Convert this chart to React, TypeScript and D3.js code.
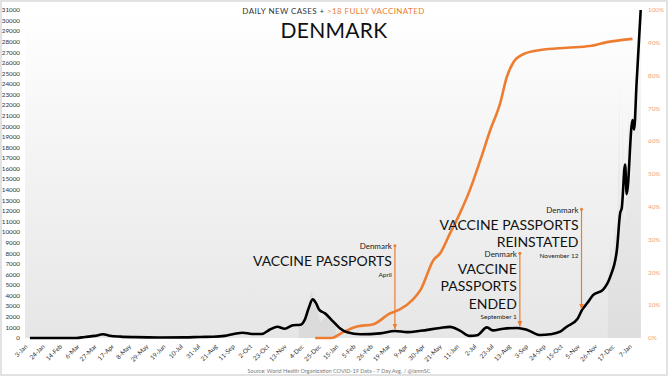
import React from "react";
import * as d3 from "d3";

// 7-day average daily new cases (Denmark)
const caseDates = [
  "2020-01-09","2020-03-05","2020-03-16","2020-03-28","2020-04-07","2020-04-15","2020-04-28","2020-05-16",
  "2020-06-15","2020-07-16","2020-08-03","2020-08-19","2020-09-02","2020-09-14","2020-09-24","2020-10-05",
  "2020-10-17","2020-10-27","2020-11-05","2020-11-14","2020-11-24","2020-12-03","2020-12-09","2020-12-13",
  "2020-12-18","2020-12-22","2020-12-26","2021-01-02","2021-01-12","2021-01-20","2021-01-29","2021-02-14",
  "2021-03-10","2021-03-28","2021-04-12","2021-04-28","2021-05-22","2021-06-03","2021-06-15","2021-06-27",
  "2021-07-06","2021-07-18","2021-07-25","2021-08-07","2021-08-24","2021-09-05","2021-09-21","2021-10-03",
  "2021-10-15","2021-10-23","2021-11-05","2021-11-11","2021-11-17","2021-11-24","2021-12-06","2021-12-15",
  "2021-12-23","2021-12-27","2021-12-29","2022-01-02","2022-01-04","2022-01-11","2022-01-13","2022-01-16",
  "2022-01-21"
];
const caseValues = [
  0, 0, 100, 200, 350, 220, 130, 80,
  50, 60, 100, 120, 200, 400, 500, 380,
  380, 800, 1070, 880, 1200, 1250, 1850, 2800,
  3650, 3300, 2650, 2330, 1550, 920, 540, 360,
  440, 660, 560, 680, 950, 1050, 700, 200,
  260, 1000, 720, 880, 950, 760, 280, 350,
  600, 1070, 1800, 2700, 3300, 4050, 4550, 5800,
  8300, 11800, 12300, 16400, 13600, 20600, 19700, 24100,
  31000
];

// raw daily cases (light grey spikes)
const rawDates = [
  "2020-12-01","2020-12-08","2020-12-12","2020-12-15","2020-12-17","2020-12-19","2020-12-21","2020-12-24","2020-12-27","2021-01-05","2021-01-15",
  "2021-12-12","2021-12-16","2021-12-18","2021-12-20","2021-12-23","2021-12-26","2021-12-28","2021-12-30","2022-01-01","2022-01-03","2022-01-06","2022-01-09","2022-01-12","2022-01-15","2022-01-18","2022-01-21"
];
const rawValues = [
  1200, 1800, 3000, 4000, 4400, 3500, 3800, 2600, 1500, 2200, 1300,
  5000, 9500, 6000, 11000, 9000, 24500, 8000, 23000, 11000, 12000, 22000, 14000, 21000, 25000, 22000, 30000
];

// share of >18 population fully vaccinated (%)
const vaxDates = [
  "2020-12-21","2021-01-10","2021-01-24","2021-02-10","2021-03-02","2021-03-22","2021-04-03","2021-04-19",
  "2021-04-28","2021-05-14","2021-05-22","2021-06-03","2021-06-15","2021-06-27","2021-07-10","2021-07-22",
  "2021-08-03","2021-08-11","2021-08-19","2021-08-31","2021-09-21","2021-10-23","2021-11-20","2021-12-11",
  "2022-01-11"
];
const vaxValues = [
  0, 0, 1.8, 3.5, 4.2, 7.5, 8.7, 11.8,
  14.6, 23.8, 25.8, 31.9, 38, 45, 54.3, 63.4,
  71.5, 79.5, 84, 86.5, 87.8, 88.5, 89, 90.2,
  91.2
];

const xTickDates = [
  "2020-01-03","2020-01-24","2020-02-14","2020-03-06","2020-03-27","2020-04-17","2020-05-08","2020-05-29",
  "2020-06-19","2020-07-10","2020-07-31","2020-08-21","2020-09-11","2020-10-02","2020-10-23","2020-11-13",
  "2020-12-04","2020-12-25","2021-01-15","2021-02-05","2021-02-26","2021-03-19","2021-04-09","2021-04-30",
  "2021-05-21","2021-06-11","2021-07-02","2021-07-23","2021-08-13","2021-09-03","2021-09-24","2021-10-15",
  "2021-11-05","2021-11-26","2021-12-17","2022-01-07"
];
const leftTicks = [0,1000,2000,3000,4000,5000,6000,7000,8000,9000,10000,11000,12000,13000,14000,15000,
  16000,17000,18000,19000,20000,21000,22000,23000,24000,25000,26000,27000,28000,29000,30000,31000];
const rightTicks = [0,10,20,30,40,50,60,70,80,90,100];

const annotationDates = ["2021-03-28", "2021-08-27", "2021-11-10"];
const annotationTops = [8720, 8000, 12160];
const annotationHeads = ["Denmark", "Denmark", "Denmark"];
const annotationBodies = [["VACCINE PASSPORTS"], ["VACCINE", "PASSPORTS", "ENDED"], ["VACCINE PASSPORTS", "REINSTATED"]];
const annotationFoots = ["April", "September 1", "November 12"];

const W = 668, H = 376;
const FONT = "Lato, 'Open Sans', sans-serif";
const ORANGE = "#ed7d31";

export default function App() {
  const parse = d3.utcParse("%Y-%m-%d");
  const x = d3.scaleUtc().domain([parse("2020-01-03")!, parse("2022-01-21")!]).range([25, 640.7]);
  const yC = d3.scaleLinear().domain([0, 31000]).range([338, 10]);
  const yP = d3.scaleLinear().domain([0, 100]).range([338, 10]);

  const cases = caseDates.map((d, i) => ({ d: parse(d)!, v: caseValues[i] }));
  const vax = vaxDates.map((d, i) => ({ d: parse(d)!, v: vaxValues[i] }));
  const raw = rawDates.map((d, i) => ({ d: parse(d)!, v: rawValues[i] }));

  const caseLine = d3.line<any>().x(p => x(p.d)).y(p => yC(p.v)).curve(d3.curveMonotoneX);
  const vaxLine = d3.line<any>().x(p => x(p.d)).y(p => yP(p.v)).curve(d3.curveMonotoneX);
  const rawArea = d3.area<any>().x(p => x(p.d)).y0(338).y1(p => yC(p.v)).curve(d3.curveLinear);
  const rawSeg1 = raw.slice(0, 11);
  const rawSeg2 = raw.slice(11);

  const fmt = d3.utcFormat("%-d-%b");
  const bis = d3.bisector((p: any) => p.d).left;
  const valueAt = (date: Date) => {
    const i = bis(cases, date);
    const a = cases[i - 1], b = cases[i];
    const t = (+date - +a.d) / (+b.d - +a.d);
    return a.v + (b.v - a.v) * t;
  };

  return (
    <svg width={W} height={H} style={{ position: "absolute", left: 0, top: 0, background: "#fff" }}
      fontFamily={FONT}>
      <defs>
        <linearGradient id="bg" x1="0" y1="0" x2="0" y2="1">
          <stop offset="0" stopColor="#ffffff" />
          <stop offset="1" stopColor="#e6e6e6" />
        </linearGradient>
        <linearGradient id="rawg" x1="0" y1="0" x2="0" y2="1">
          <stop offset="0" stopColor="#f2f2f2" />
          <stop offset="1" stopColor="#d8d8d8" />
        </linearGradient>
        <marker id="arr" viewBox="0 0 10 10" refX="9" refY="5" markerWidth="5" markerHeight="5" orient="auto">
          <path d="M0,1 L10,5 L0,9 Z" fill={ORANGE} />
        </marker>
      </defs>
      <rect x={1} y={1} width={W - 2} height={H - 2} fill="#fff" stroke="#e2e2e2" strokeWidth={2} />
      <rect x={25} y={10} width={641 - 25} height={328} fill="url(#bg)" />

      <path d={rawArea(rawSeg1) || ""} fill="#d6d6d6" opacity={0.7} />
      <path d={rawArea(rawSeg2) || ""} fill="url(#rawg)" opacity={0.6} />

      {/* left axis */}
      {leftTicks.map(t => (
        <text key={"l" + t} x={20} y={yC(t) + 2.2} fontSize={6.3} textAnchor="end" fill="#333">{t}</text>
      ))}
      {/* right axis */}
      {rightTicks.map(t => (
        <text key={"r" + t} x={648} y={yP(t) + 2.2} fontSize={6.3} textAnchor="start" fill="#f4a46a">{t + "%"}</text>
      ))}
      {/* x axis */}
      {xTickDates.map(ds => {
        const px = x(parse(ds)!) + 3;
        return (
          <text key={ds} transform={`translate(${px},${347}) rotate(-45)`} fontSize={6.3}
            textAnchor="end" fill="#333">{fmt(parse(ds)!)}</text>
        );
      })}

      <path d={vaxLine(vax) || ""} fill="none" stroke={ORANGE} strokeWidth={2.6} />
      <path d={caseLine(cases) || ""} fill="none" stroke="#000" strokeWidth={2.6} strokeLinejoin="round" />

      {/* annotations */}
      {annotationDates.map((ds, i) => {
        const date = parse(ds)!;
        const ax = x(date);
        const top = yC(annotationTops[i]);
        const tip = yC(valueAt(date)) - 2;
        const tx = ax - 3;
        const head = top + 3.5;
        const bodies = annotationBodies[i];
        return (
          <g key={ds}>
            <line x1={ax} x2={ax} y1={top} y2={tip} stroke={ORANGE} strokeWidth={1.2} markerEnd="url(#arr)" />
            <circle cx={ax} cy={top} r={1.5} fill={ORANGE} />
            <text x={tx} y={head} fontSize={8} textAnchor="end" fill="#222">{annotationHeads[i]}</text>
            {bodies.map((b, j) => (
              <text key={j} x={tx} y={head + 17 + j * 17.4} fontSize={14} textAnchor="end" fill="#111">{b}</text>
            ))}
            <text x={tx} y={head + 17 + (bodies.length - 1) * 17.4 + 10.5} fontSize={6.5} textAnchor="end" fill="#222">{annotationFoots[i]}</text>
          </g>
        );
      })}

      {/* titles */}
      <text x={333.5} y={14} fontSize={8} textAnchor="middle" letterSpacing={0.4}>
        <tspan fill="#333">DAILY NEW CASES + </tspan>
        <tspan fill={ORANGE}>&gt;18 FULLY VACCINATED</tspan>
      </text>
      <text x={334} y={37.7} fontSize={21} fontWeight={400} textAnchor="middle" fill="#111" letterSpacing={0.3}>DENMARK</text>

      <text x={339} y={373} fontSize={5.5} textAnchor="middle" fill="#777">
        Source: World Health Organization COVID-19 Data - 7 Day Avg. / @ianmSC
      </text>
    </svg>
  );
}
